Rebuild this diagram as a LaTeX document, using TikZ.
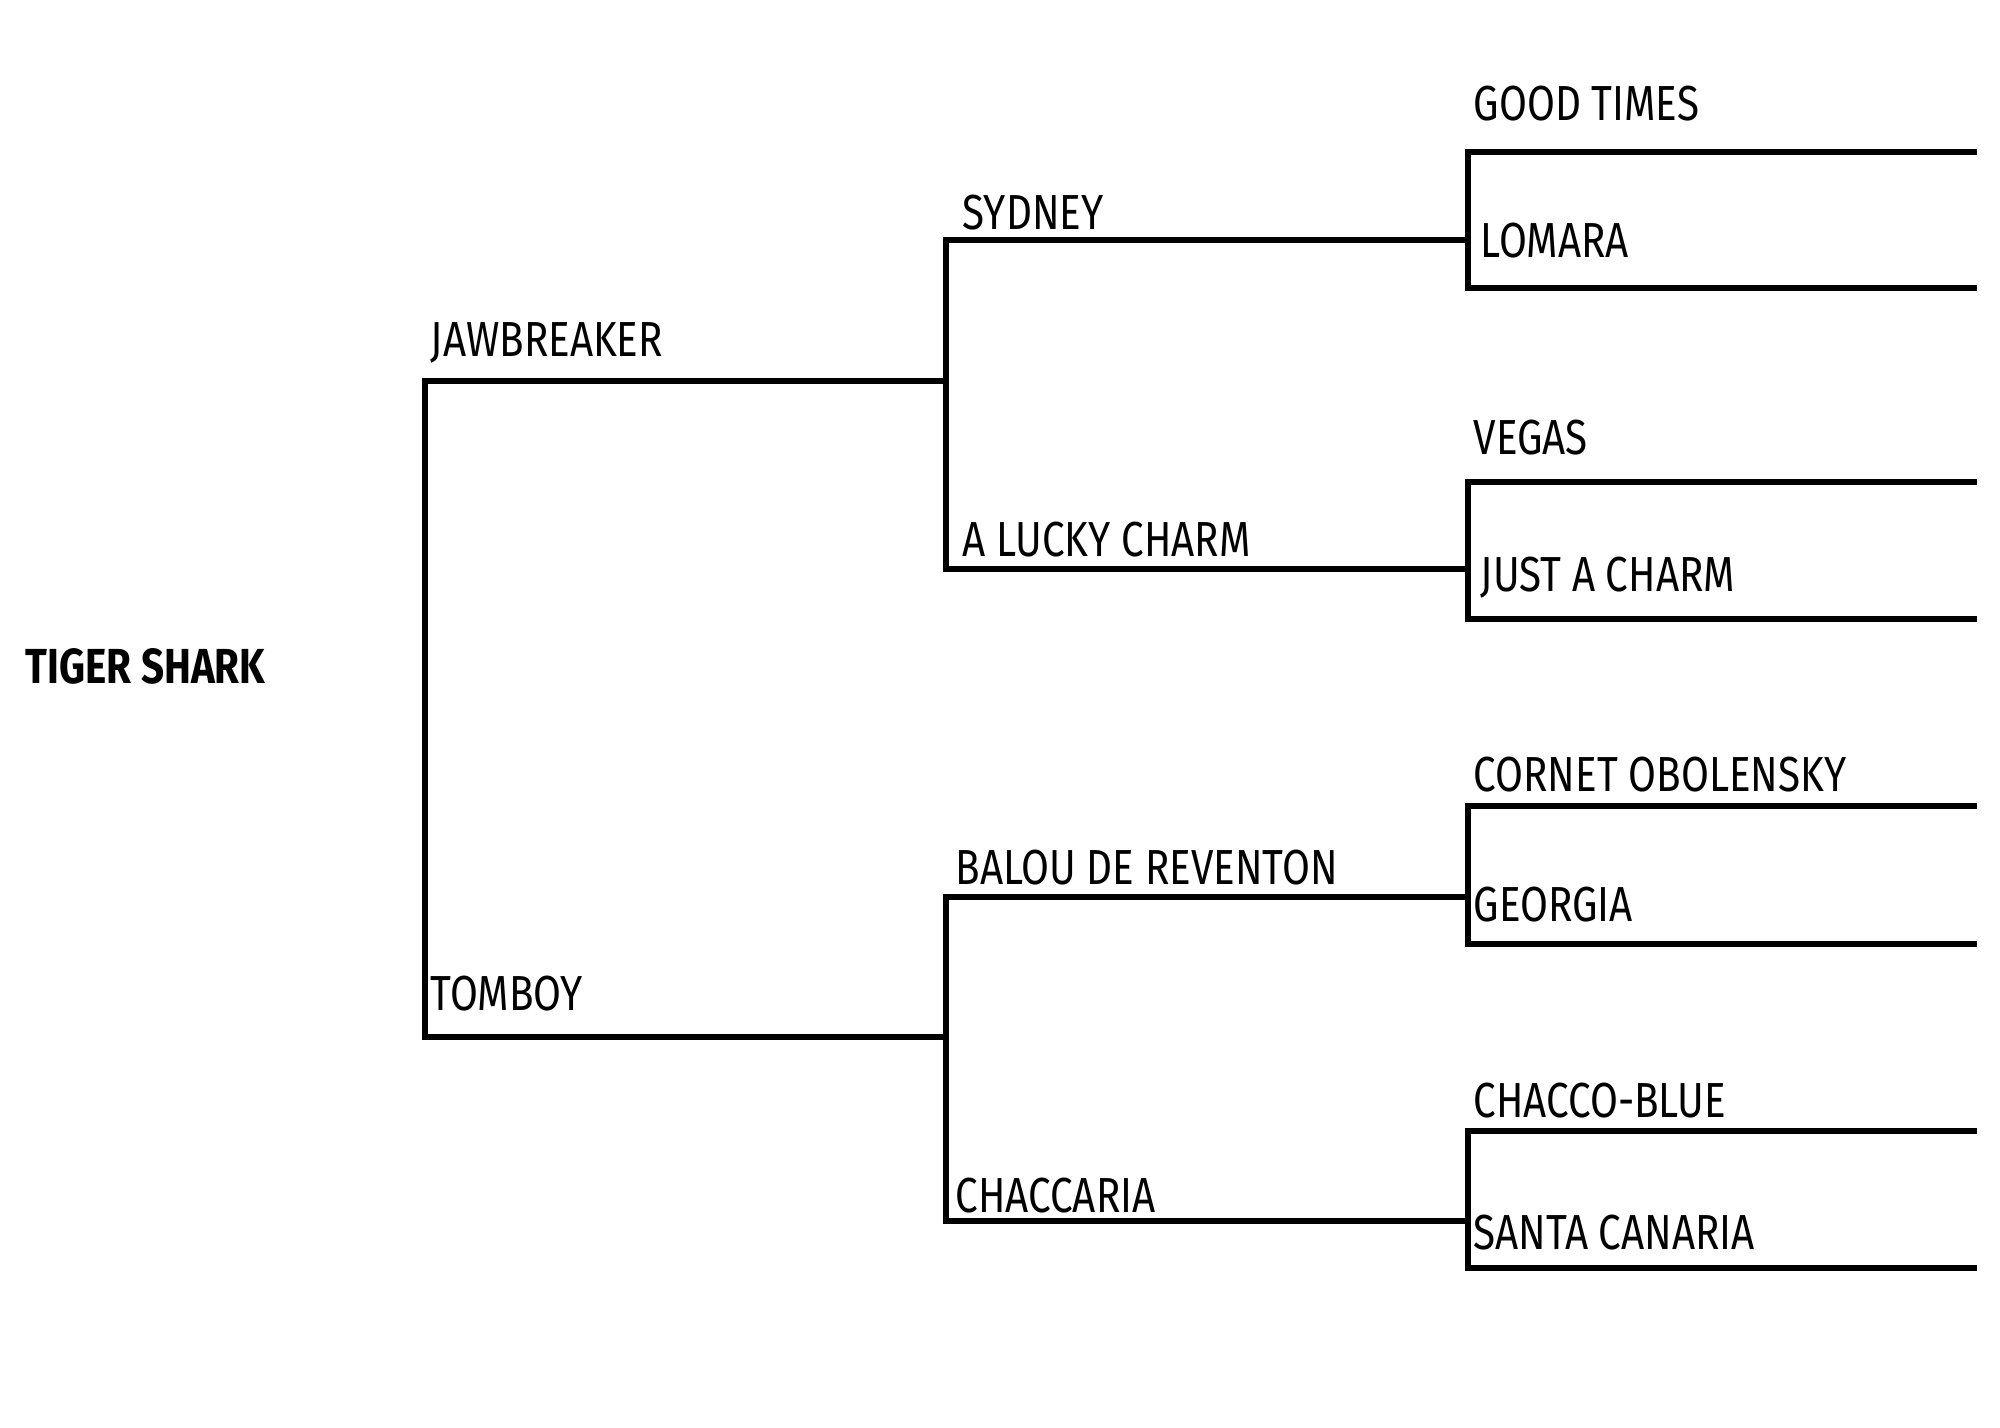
\documentclass[tikz,border=0pt]{standalone}
\usepackage{fontspec}
\setmainfont{Fira Sans}[FakeStretch=0.82]
\usepackage{tikz}
\tikzset{
  pedline/.style={line width=1.5pt, line join=miter},
  horse/.style={anchor=base west, inner sep=0pt, font=\fontsize{14}{16}\selectfont},
  champ/.style={horse, font=\fontsize{14}{16}\selectfont\bfseries}
}

\begin{document}
\begin{tikzpicture}[x=0.01cm,y=-0.01cm]
    \useasboundingbox (0,0) rectangle (2000,1428);
    % generation 1
    \coordinate (jaw) at (425,381);  \coordinate (jawE) at (946,381);
    \coordinate (tom) at (425,1037); \coordinate (tomE) at (946,1037);
    % generation 2
    \coordinate (syd) at (946,240);  \coordinate (sydE) at (1468,240);
    \coordinate (luc) at (946,569);  \coordinate (lucE) at (1468,569);
    \coordinate (bal) at (946,897);  \coordinate (balE) at (1468,897);
    \coordinate (cha) at (946,1221); \coordinate (chaE) at (1468,1221);
    % generation 3
    \coordinate (goo) at (1468,152);  \coordinate (gooE) at (1977,152);
    \coordinate (lom) at (1468,288);  \coordinate (lomE) at (1977,288);
    \coordinate (veg) at (1468,482);  \coordinate (vegE) at (1977,482);
    \coordinate (jus) at (1468,619);  \coordinate (jusE) at (1977,619);
    \coordinate (cor) at (1468,806);  \coordinate (corE) at (1977,806);
    \coordinate (geo) at (1468,944);  \coordinate (geoE) at (1977,944);
    \coordinate (chb) at (1468,1131); \coordinate (chbE) at (1977,1131);
    \coordinate (san) at (1468,1268); \coordinate (sanE) at (1977,1268);

    \draw[pedline] (jawE) -- (jaw) -- (tom) -- (tomE);
    \draw[pedline] (sydE) -- (syd) -- (luc) -- (lucE);
    \draw[pedline] (balE) -- (bal) -- (cha) -- (chaE);
    \draw[pedline] (gooE) -- (goo) -- (lom) -- (lomE);
    \draw[pedline] (vegE) -- (veg) -- (jus) -- (jusE);
    \draw[pedline] (corE) -- (cor) -- (geo) -- (geoE);
    \draw[pedline] (chbE) -- (chb) -- (san) -- (sanE);

    \node[champ] (tiger) at (25,684) {TIGER SHARK};
    \node[horse] (lJaw) at (430,357)  {JAWBREAKER};
    \node[horse] (lTom) at (430,1010) {TOMBOY};
    \node[horse] (lSyd) at (962,230)  {SYDNEY};
    \node[horse] (lLuc) at (962,557)  {A LUCKY CHARM};
    \node[horse] (lBal) at (955,884)  {BALOU DE REVENTON};
    \node[horse] (lCha) at (955,1212) {CHACCARIA};
    \node[horse] (lGoo) at (1473,121)  {GOOD TIMES};
    \node[horse] (lLom) at (1480,258)  {LOMARA};
    \node[horse] (lVeg) at (1473,455)  {VEGAS};
    \node[horse] (lJus) at (1480,592)  {JUST A CHARM};
    \node[horse] (lCor) at (1473,791)  {CORNET OBOLENSKY};
    \node[horse] (lGeo) at (1473,921)  {GEORGIA};
    \node[horse] (lChb) at (1473,1117) {CHACCO-BLUE};
    \node[horse] (lSan) at (1473,1249) {SANTA CANARIA};
\end{tikzpicture}
\end{document}
